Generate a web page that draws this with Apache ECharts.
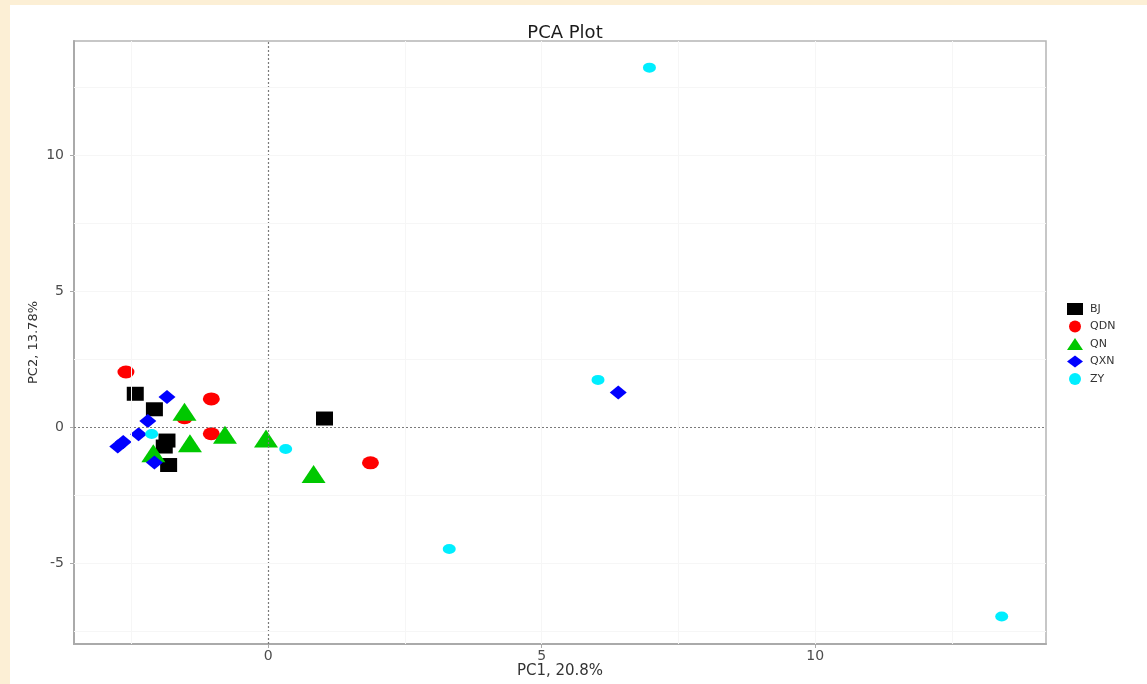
<!DOCTYPE html>
<html>
<head>
<meta charset="utf-8">
<style>
  html, body { margin:0; padding:0; width:1147px; height:684px; background:#fcefd5; overflow:hidden; }
  #paper { position:absolute; left:10px; top:5px; width:1137px; height:679px; background:#ffffff; }
  #chart { position:absolute; left:0; top:0; width:1147px; height:684px; }
</style>
<script src="https://cdn.jsdelivr.net/npm/echarts@6/dist/echarts.min.js"></script>
</head>
<body>
<div id="paper"></div>
<div id="chart"></div>
<script>
// ---- data (PC1, PC2) ----
const groups = ['BJ', 'QDN', 'QN', 'QXN', 'ZY'];
const BJ  = [[-2.43, 1.22], [-2.08, 0.65], [-1.85, -0.50], [-1.90, -0.72], [-1.82, -1.40], [1.03, 0.31]];
const QDN = [[-2.60, 2.02], [-1.04, 1.03], [-1.53, 0.34], [-1.04, -0.25], [1.87, -1.32]];
const QN  = [[-1.53, 0.56], [-0.79, -0.29], [-1.43, -0.60], [-2.10, -0.97], [-0.04, -0.42], [0.83, -1.73]];
const QXN = [[-1.85, 1.10], [-2.20, 0.22], [-2.37, -0.27], [-2.65, -0.55], [-2.75, -0.72], [-2.08, -1.31], [6.40, 1.27]];
const ZY  = [[-2.13, -0.26], [0.32, -0.81], [6.03, 1.73], [6.97, 13.21], [3.31, -4.49], [13.41, -6.97]];

const xTicks = [0, 5, 10];
const yTicks = [-5, 0, 5, 10];
const xGrid = [-2.5, 0, 2.5, 5, 7.5, 10, 12.5];
const yGrid = [-7.5, -5, -2.5, 0, 2.5, 5, 7.5, 10, 12.5];
const xRange = [-3.55, 14.22];
const yRange = [-7.98, 14.19];

const seriesData = [BJ, QDN, QN, QXN, ZY];
const symbols = ['rect', 'circle', 'triangle', 'diamond', 'circle'];
const sizes = [[17, 14], [17, 13], [24, 18], [17, 14], [13, 10]];
const colors = ['#000000', '#ff0000', '#00c800', '#0000ff', '#00eeff'];

const chart = echarts.init(document.getElementById('chart'), null, { renderer: 'canvas', width: 1147, height: 684 });

const gridLines = [];
xGrid.forEach(v => { if (v !== 0) gridLines.push({ xAxis: v }); });
yGrid.forEach(v => { if (v !== 0) gridLines.push({ yAxis: v }); });

const series = groups.map((g, i) => ({
  name: g,
  type: 'scatter',
  data: seriesData[i],
  symbol: symbols[i],
  symbolSize: sizes[i],
  itemStyle: { color: colors[i], opacity: 1 },
  z: 3,
  silent: true
}));

series.unshift({
  name: '_grid',
  type: 'scatter',
  data: [],
  silent: true,
  z: 1,
  markLine: {
    silent: true,
    symbol: 'none',
    label: { show: false },
    lineStyle: { color: '#f6f6f6', width: 1, type: 'solid' },
    data: gridLines
  }
});
series.unshift({
  name: '_zero',
  type: 'scatter',
  data: [],
  silent: true,
  z: 2,
  markLine: {
    silent: true,
    symbol: 'none',
    label: { show: false },
    lineStyle: { color: '#7a7a7a', width: 1.2, type: [2, 2] },
    data: [{ xAxis: 0 }, { yAxis: 0 }]
  }
});

const axisFont = { color: '#4d4d4d', fontSize: 14, fontFamily: 'DejaVu Sans' };

chart.setOption({
  animation: false,
  backgroundColor: 'transparent',
  title: {
    text: 'PCA Plot',
    left: 560, top: 19,
    textAlign: 'center',
    textStyle: { fontSize: 18, fontWeight: 'normal', color: '#1a1a1a', fontFamily: 'DejaVu Sans' }
  },
  legend: {
    orient: 'vertical',
    left: 1067, top: 303, padding: 0,
    itemWidth: 16, itemHeight: 12, itemGap: 5.5,
    data: groups,
    textStyle: { fontSize: 11, color: '#333', fontFamily: 'DejaVu Sans', padding: [0, 0, 0, 2] }
  },
  grid: {
    left: 74, top: 41, width: 972, height: 603,
    outerBoundsMode: 'none',
    containLabel: false,
    show: true, borderColor: '#b5b5b5', borderWidth: 1.5, backgroundColor: 'transparent'
  },
  xAxis: {
    type: 'value',
    min: xRange[0], max: xRange[1],
    name: 'PC1, 20.8%', nameLocation: 'middle', nameGap: 20, nameMoveOverlap: false,
    nameTextStyle: { fontSize: 15, color: '#333', fontFamily: 'DejaVu Sans' },
    axisLine: { show: true, onZero: false, lineStyle: { color: '#aaaaaa', width: 2 } },
    axisTick: { show: true, length: 4, customValues: xTicks, lineStyle: { color: '#aaaaaa' } },
    axisLabel: Object.assign({ margin: 5, customValues: xTicks }, axisFont),
    splitLine: { show: false }
  },
  yAxis: {
    type: 'value',
    min: yRange[0], max: yRange[1],
    name: 'PC2, 13.78%', nameLocation: 'middle', nameGap: 34, nameRotate: 90, nameMoveOverlap: false,
    nameTextStyle: { fontSize: 13, color: '#333', fontFamily: 'DejaVu Sans' },
    axisLine: { show: true, onZero: false, lineStyle: { color: '#aaaaaa', width: 2 } },
    axisTick: { show: true, length: 4, customValues: yTicks, lineStyle: { color: '#aaaaaa' } },
    axisLabel: Object.assign({ margin: 10, customValues: yTicks }, axisFont),
    splitLine: { show: false }
  },
  series: series
});
</script>
</body>
</html>
